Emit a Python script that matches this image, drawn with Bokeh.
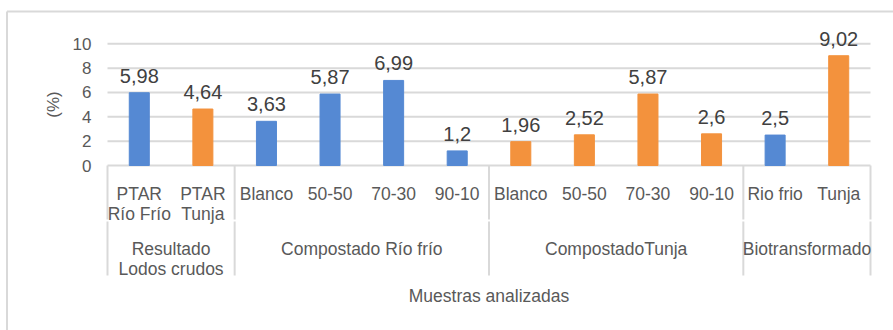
from bokeh.plotting import figure
from bokeh.models import Range1d, FixedTicker, ColumnDataSource
from bokeh.core.properties import value
from bokeh.embed import file_html
from bokeh.resources import INLINE

# ---- data -------------------------------------------------------------
samples = ["PTAR\nRío Frío", "PTAR\nTunja",
           "Blanco", "50-50", "70-30", "90-10",
           "Blanco", "50-50", "70-30", "90-10",
           "Rio frio", "Tunja"]
groups = ["Resultado\nLodos crudos", "Compostado Río frío",
          "CompostadoTunja", "Biotransformado"]
group_sizes = [2, 4, 4, 2]
percent = [5.98, 4.64, 3.63, 5.87, 6.99, 1.2,
           1.96, 2.52, 5.87, 2.6, 2.5, 9.02]
origin = ["Río Frío", "Tunja", "Río Frío", "Río Frío", "Río Frío", "Río Frío",
          "Tunja", "Tunja", "Tunja", "Tunja", "Río Frío", "Tunja"]
y_ticks = [0, 2, 4, 6, 8, 10]
x_title = "Muestras analizadas"
y_title = "(%)"

# ---- styling / layout -------------------------------------------------
W, H = 893, 330
PLOT_L, PLOT_R = 107.0, 870.0        # plot area edges (px)
ZERO_Y, TEN_Y = 165.0, 43.3          # px rows of 0 and 10
FONT = value("Liberation Sans")
AXIS_TXT = "#595959"
LABEL_TXT = "#404040"
LINE = "#d9d9d9"
COLORS = {"Río Frío": "#5589D3", "Tunja": "#F3923D"}

n = len(percent)
sx = (PLOT_R - PLOT_L) / n           # px per category slot
sy = (ZERO_Y - TEN_Y) / 10.0         # px per percent unit


def dy(px):
    """convert a downward pixel distance to data units"""
    return -px / sy


p = figure(width=W, height=H,
           x_range=Range1d(-PLOT_L / sx, (W - PLOT_L) / sx),
           y_range=Range1d(-(H - ZERO_Y) / sy, ZERO_Y / sy),
           output_backend="svg", toolbar_location=None,
           min_border=0, outline_line_color=None,
           background_fill_color="white", border_fill_color="white")
p.xaxis.visible = False
p.xgrid.visible = False
p.ygrid.visible = False

# value axis pinned to the left edge of the plot area
ax = p.yaxis[0]
ax.fixed_location = 0
ax.bounds = (y_ticks[0], y_ticks[-1])
ax.ticker = FixedTicker(ticks=y_ticks)
ax.axis_line_color = None
ax.major_tick_line_color = None
ax.minor_tick_line_color = None
ax.major_label_standoff = 10
ax.major_label_text_font = "Liberation Sans"
ax.major_label_text_font_size = "17px"
ax.major_label_text_color = AXIS_TXT
ax.axis_label = y_title
ax.axis_label_standoff = 7
ax.axis_label_text_font = "Liberation Sans"
ax.axis_label_text_font_size = "17px"
ax.axis_label_text_font_style = "normal"
ax.axis_label_text_color = AXIS_TXT

# chart-area border (top and left edges)
x_edge = (6.5 - PLOT_L) / sx
y_edge = (ZERO_Y - 11) / sy
p.segment(x0=[x_edge, x_edge], y0=[y_edge, y_edge],
          x1=[x_edge, (W + 5 - PLOT_L) / sx], y1=[-(H + 5 - ZERO_Y) / sy, y_edge],
          line_color=LINE, line_width=2)

# horizontal gridlines (the 0 line doubles as category axis)
p.segment(x0=[0] * len(y_ticks), x1=[n] * len(y_ticks), y0=y_ticks, y1=y_ticks,
          line_color=LINE, line_width=2)

# bars
centers = [i + 0.5 for i in range(n)]
src = ColumnDataSource(dict(
    x=centers, top=percent,
    color=[COLORS[o] for o in origin],
    label=[f"{v:g}".replace(".", ",") for v in percent],
))
p.vbar(x="x", top="top", width=0.315, color="color", source=src)

# value labels above bars
p.text(x="x", y="top", text="label", source=src, y_offset=-17,
       text_align="center", text_baseline="alphabetic",
       text_font=FONT, text_font_size="20px", text_color=LABEL_TXT)

# group dividers in the category table
bounds = [0]
for s in group_sizes:
    bounds.append(bounds[-1] + s)
vx0, vy0, vx1, vy1 = [], [], [], []
for b in bounds:
    vx0 += [b, b]
    vx1 += [b, b]
    vy0 += [0, dy(56)]
    vy1 += [dy(54), dy(110)]
p.segment(x0=vx0, y0=vy0, x1=vx1, y1=vy1, line_color=LINE, line_width=2)


def put_lines(xs, labels, first_offset, step=20):
    tx, ty, tt, off = [], [], [], []
    for x, lab in zip(xs, labels):
        for k, line in enumerate(lab.split("\n")):
            tx.append(x)
            ty.append(0)
            tt.append(line)
            off.append(first_offset + k * step)
    s = ColumnDataSource(dict(x=tx, y=ty, text=tt, off=off))
    p.text(x="x", y="y", text="text", y_offset="off", source=s,
           text_align="center", text_baseline="alphabetic",
           text_font=FONT, text_font_size="17.5px", text_color=AXIS_TXT)


# sample names, group names, axis title
put_lines(centers, samples, 28)
group_centers = [(a + b) / 2 for a, b in zip(bounds[:-1], bounds[1:])]
put_lines(group_centers, groups, 83)
put_lines([n / 2], [x_title], 130.5)

open("out.html", "w").write(file_html(p, INLINE))
